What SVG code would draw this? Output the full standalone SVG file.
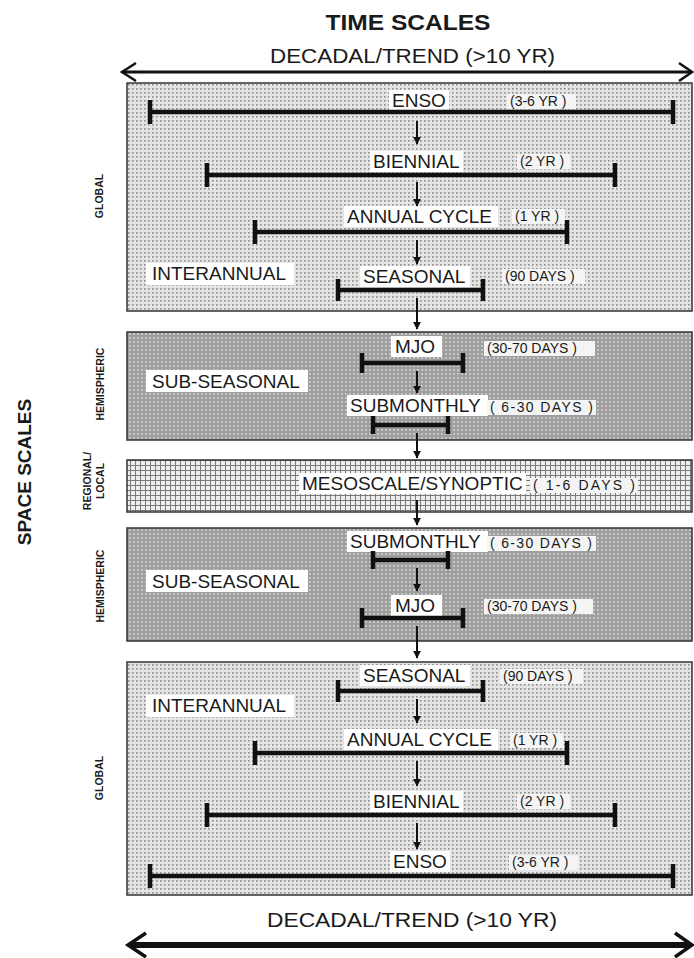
<svg xmlns="http://www.w3.org/2000/svg" width="694" height="958" viewBox="0 0 694 958">
<style>
text{font-family:"Liberation Sans",Arial,sans-serif;fill:#1a1a1a}
.title{font-size:22px;font-weight:bold}
.dec{font-size:20px}
.side{font-size:19px;font-weight:bold}
.tiny{font-size:10.5px;font-weight:bold}
.lb{font-size:19px}
.sm{font-size:14px}
.box{fill:#ffffff}
.sbox{fill:#f4f4f4}
.bar{stroke:#111;stroke-width:4.5;fill:none}
.tick{stroke:#111;stroke-width:4.5;fill:none}
.pane{stroke:#333;stroke-width:1.5}
.con{stroke:#111;stroke-width:2;fill:none}
</style>
<defs>
<pattern id="lt" width="4" height="4" patternUnits="userSpaceOnUse">
<rect width="4" height="4" fill="#e4e4e4"/>
<rect x="0" y="0" width="1.6" height="1.6" fill="#8c8c8c"/>
</pattern>
<pattern id="dk" width="4" height="4" patternUnits="userSpaceOnUse">
<rect width="4" height="4" fill="#9e9e9e"/>
<circle cx="2" cy="2" r="1" fill="#d4d4d4"/>
</pattern>
<pattern id="gr" width="5" height="5" patternUnits="userSpaceOnUse">
<rect width="5" height="5" fill="#eeeeee"/>
<path d="M0 0.5H5M0.5 0V5" stroke="#7a7a7a" stroke-width="1"/>
</pattern>
<marker id="ah" viewBox="0 0 10 10" refX="9" refY="5" markerWidth="4" markerHeight="4" orient="auto">
<path d="M0 0L10 5L0 10z" fill="#111"/>
</marker>
</defs>
<rect width="694" height="958" fill="#ffffff"/>

<g id="headings">
<text class="title" x="408" y="30" text-anchor="middle" textLength="165" lengthAdjust="spacingAndGlyphs">TIME SCALES</text>
<text class="dec" x="270" y="63" textLength="285" lengthAdjust="spacingAndGlyphs">DECADAL/TREND (&gt;10 YR)</text>
<text class="dec" x="267" y="927" textLength="290" lengthAdjust="spacingAndGlyphs">DECADAL/TREND (&gt;10 YR)</text>
<text class="side" transform="translate(31,472) rotate(-90)" text-anchor="middle">SPACE SCALES</text>
</g>

<g id="axis-top">
<path d="M124 72H691" stroke="#111" stroke-width="3" fill="none"/>
<path d="M136 63L122 72L136 81M679 63L692 72L679 81" stroke="#111" stroke-width="2.5" fill="none"/>
</g>
<g id="axis-bottom">
<path d="M130 945H689" stroke="#111" stroke-width="6" fill="none"/>
<path d="M146 933L128 945L146 957M675 933L692 945L675 957" stroke="#111" stroke-width="3.5" fill="none"/>
</g>

<g id="space-labels">
<text class="tiny" transform="translate(103,196) rotate(-90)" text-anchor="middle">GLOBAL</text>
<text class="tiny" transform="translate(104,384) rotate(-90)" text-anchor="middle">HEMISPHERIC</text>
<text class="tiny" transform="translate(91,481) rotate(-90)" text-anchor="middle">REGIONAL/</text>
<text class="tiny" transform="translate(104,481) rotate(-90)" text-anchor="middle">LOCAL</text>
<text class="tiny" transform="translate(104,586) rotate(-90)" text-anchor="middle">HEMISPHERIC</text>
<text class="tiny" transform="translate(103,778) rotate(-90)" text-anchor="middle">GLOBAL</text>
</g>

<g id="panels">
<rect id="panel-global-top" class="pane" x="127" y="83" width="565" height="228" fill="url(#lt)"/>
<rect id="panel-hemi-top" class="pane" x="127" y="332" width="565" height="108" fill="url(#dk)"/>
<rect id="panel-regional" class="pane" x="127" y="460" width="565" height="52" fill="url(#gr)"/>
<rect id="panel-hemi-bottom" class="pane" x="127" y="528" width="565" height="113" fill="url(#dk)"/>
<rect id="panel-global-bottom" class="pane" x="127" y="662" width="565" height="233" fill="url(#lt)"/>
</g>

<g id="band-labels">
<rect class="box" x="146" y="263" width="148" height="22"/>
<text class="lb" x="152" y="280">INTERANNUAL</text>
<rect class="box" x="146" y="370" width="162" height="22"/>
<text class="lb" x="152" y="388">SUB-SEASONAL</text>
<rect class="box" x="146" y="570" width="162" height="22"/>
<text class="lb" x="152" y="588">SUB-SEASONAL</text>
<rect class="box" x="146" y="695" width="148" height="22"/>
<text class="lb" x="152" y="712">INTERANNUAL</text>
</g>

<g id="enso-top">
<rect class="box" x="389" y="90" width="60" height="21"/>
<text class="lb" x="392" y="107">ENSO</text>
<rect class="sbox" x="507" y="94" width="69" height="15"/>
<text class="sm" x="510" y="106">(3-6 YR )</text>
<path class="bar" d="M150 112H673"/>
<path class="tick" d="M150 100V124M673 100V124"/>
</g>
<g id="biennial-top">
<rect class="box" x="370" y="151" width="93" height="21"/>
<text class="lb" x="373" y="168">BIENNIAL</text>
<rect class="sbox" x="517" y="154" width="53" height="15"/>
<text class="sm" x="520" y="166">(2 YR )</text>
<path class="bar" d="M207 175H615"/>
<path class="tick" d="M207 163V187M615 163V187"/>
</g>
<g id="annual-top">
<rect class="box" x="344" y="206" width="154" height="21"/>
<text class="lb" x="347" y="223">ANNUAL CYCLE</text>
<rect class="sbox" x="512" y="209" width="53" height="15"/>
<text class="sm" x="515" y="221">(1 YR )</text>
<path class="bar" d="M255 232H567"/>
<path class="tick" d="M255 220V244M567 220V244"/>
</g>
<g id="seasonal-top">
<rect class="box" x="360" y="266" width="110" height="21"/>
<text class="lb" x="363" y="283">SEASONAL</text>
<rect class="sbox" x="502" y="269" width="83" height="15"/>
<text class="sm" x="505" y="281">(90 DAYS )</text>
<path class="bar" d="M338 290H483"/>
<path class="tick" d="M338 279V301M483 279V301"/>
</g>

<g id="mjo-top">
<rect class="box" x="391" y="336" width="51" height="21"/>
<text class="lb" x="395" y="353">MJO</text>
<rect class="sbox" x="484" y="341" width="111" height="15"/>
<text class="sm" x="487" y="353">(30-70 DAYS )</text>
<path class="bar" d="M362 363H463"/>
<path class="tick" d="M362 353V373M463 353V373"/>
</g>
<g id="submonthly-top">
<rect class="box" x="347" y="395" width="141" height="21"/>
<text class="lb" x="350" y="412">SUBMONTHLY</text>
<rect class="sbox" x="487" y="400" width="109" height="15"/>
<text class="sm" x="490" y="412" textLength="103" lengthAdjust="spacing">( 6-30 DAYS )</text>
<path class="bar" d="M373 425H448"/>
<path class="tick" d="M373 416V434M448 416V434"/>
</g>

<g id="mesoscale">
<rect class="box" x="299" y="473" width="227" height="21"/>
<text class="lb" x="302" y="490">MESOSCALE/SYNOPTIC</text>
<rect class="sbox" x="530" y="478" width="108" height="15"/>
<text class="sm" x="533" y="490" textLength="102" lengthAdjust="spacing">( 1-6 DAYS )</text>
</g>

<g id="submonthly-bottom">
<rect class="box" x="347" y="531" width="141" height="21"/>
<text class="lb" x="350" y="548">SUBMONTHLY</text>
<rect class="sbox" x="487" y="536" width="109" height="15"/>
<text class="sm" x="490" y="548" textLength="102" lengthAdjust="spacing">( 6-30 DAYS )</text>
<path class="bar" d="M373 560H448"/>
<path class="tick" d="M373 551V569M448 551V569"/>
</g>
<g id="mjo-bottom">
<rect class="box" x="391" y="595" width="51" height="21"/>
<text class="lb" x="395" y="612">MJO</text>
<rect class="sbox" x="484" y="599" width="109" height="15"/>
<text class="sm" x="487" y="611">(30-70 DAYS )</text>
<path class="bar" d="M362 618H463"/>
<path class="tick" d="M362 608V628M463 608V628"/>
</g>

<g id="seasonal-bottom">
<rect class="box" x="360" y="665" width="110" height="21"/>
<text class="lb" x="363" y="682">SEASONAL</text>
<rect class="sbox" x="500" y="669" width="83" height="15"/>
<text class="sm" x="503" y="681">(90 DAYS )</text>
<path class="bar" d="M338 691H483"/>
<path class="tick" d="M338 680V702M483 680V702"/>
</g>
<g id="annual-bottom">
<rect class="box" x="344" y="729" width="154" height="21"/>
<text class="lb" x="347" y="746">ANNUAL CYCLE</text>
<rect class="sbox" x="510" y="733" width="53" height="15"/>
<text class="sm" x="513" y="745">(1 YR )</text>
<path class="bar" d="M255 753H567"/>
<path class="tick" d="M255 741V765M567 741V765"/>
</g>
<g id="biennial-bottom">
<rect class="box" x="370" y="791" width="93" height="21"/>
<text class="lb" x="373" y="808">BIENNIAL</text>
<rect class="sbox" x="517" y="794" width="53" height="15"/>
<text class="sm" x="520" y="806">(2 YR )</text>
<path class="bar" d="M207 815H615"/>
<path class="tick" d="M207 803V827M615 803V827"/>
</g>
<g id="enso-bottom">
<rect class="box" x="390" y="851" width="60" height="21"/>
<text class="lb" x="393" y="868">ENSO</text>
<rect class="sbox" x="509" y="855" width="69" height="15"/>
<text class="sm" x="512" y="867">(3-6 YR )</text>
<path class="bar" d="M150 876H673"/>
<path class="tick" d="M150 864V888M673 864V888"/>
</g>

<g id="connectors">
<path class="con" d="M417 121V144" marker-end="url(#ah)"/>
<path class="con" d="M417 182V206" marker-end="url(#ah)"/>
<path class="con" d="M417 240V264" marker-end="url(#ah)"/>
<path class="con" d="M417 298V329" marker-end="url(#ah)"/>
<path class="con" d="M417 371V393" marker-end="url(#ah)"/>
<path class="con" d="M417 433V458" marker-end="url(#ah)"/>
<path class="con" d="M417 500V525" marker-end="url(#ah)"/>
<path class="con" d="M417 568V591" marker-end="url(#ah)"/>
<path class="con" d="M417 626V658" marker-end="url(#ah)"/>
<path class="con" d="M417 699V723" marker-end="url(#ah)"/>
<path class="con" d="M417 761V786" marker-end="url(#ah)"/>
<path class="con" d="M417 823V849" marker-end="url(#ah)"/>
</g>
</svg>
